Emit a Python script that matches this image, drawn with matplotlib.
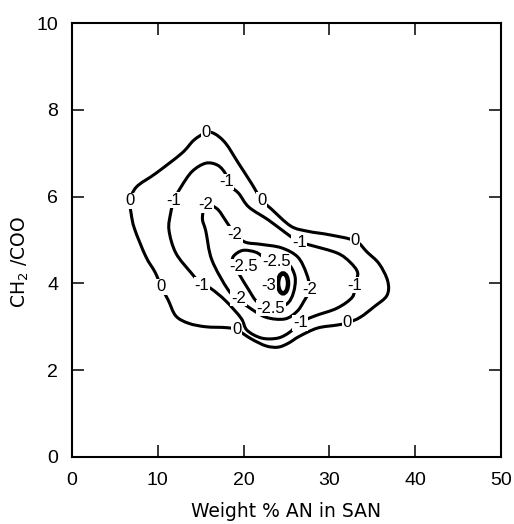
import numpy as np
import matplotlib
matplotlib.use("Agg")
import matplotlib.pyplot as plt
from matplotlib.path import Path
from matplotlib.patches import PathPatch, Ellipse

# contour outlines (weight % AN, CH2/COO), traced in order round each loop
zero_x = [6.8, 7.5, 9.8, 12.8, 14.2, 15.6, 16.6, 17.9, 19.4, 20.9, 22.1, 23.2, 25.5, 27.5, 30.0,
          33.0, 34.4, 35.8, 36.8, 36.7, 35.2, 33.6, 32.1, 30.9, 28.6, 26.5, 25.2, 24.0, 22.6,
          20.9, 19.2, 18.0, 15.6, 13.6, 12.1, 11.2, 10.4, 9.7, 8.6, 7.3, 6.9]
zero_y = [5.9, 6.22, 6.54, 7.0, 7.3, 7.47, 7.45, 7.23, 6.77, 6.31, 5.92, 5.72, 5.32, 5.2, 5.12,
          4.98, 4.72, 4.45, 4.05, 3.72, 3.46, 3.22, 3.09, 3.04, 2.97, 2.78, 2.62, 2.53, 2.56,
          2.72, 2.93, 2.98, 3.0, 3.08, 3.25, 3.62, 3.92, 4.25, 4.62, 5.25, 5.6]

m1_x = [11.9, 12.7, 14.0, 15.6, 17.0, 17.9, 18.1, 19.4, 20.6, 22.9, 25.0, 26.5, 27.8, 30.9,
        32.4, 33.3, 32.9, 32.7, 30.9, 28.3, 26.5, 25.4, 24.0, 22.1, 20.4, 19.7, 17.9, 16.2,
        15.1, 13.9, 12.1, 11.3, 11.5]
m1_y = [5.92, 6.22, 6.58, 6.77, 6.72, 6.52, 6.3, 6.08, 5.76, 5.46, 5.15, 4.95, 4.88, 4.70,
        4.49, 4.24, 3.96, 3.69, 3.43, 3.25, 3.09, 2.88, 2.74, 2.74, 2.92, 3.2, 3.6, 3.88,
        3.98, 4.24, 4.70, 5.23, 5.62]

m2_x = [15.6, 16.9, 17.9, 19.0, 20.2, 22.0, 24.4, 26.3, 27.3, 27.7, 27.0, 26.2, 24.8, 22.6,
        20.6, 19.4, 18.2, 16.3, 15.6, 15.2]
m2_y = [5.81, 5.72, 5.45, 5.13, 4.95, 4.9, 4.82, 4.61, 4.24, 3.87, 3.58, 3.35, 3.18, 3.22,
        3.45, 3.64, 3.85, 4.54, 5.2, 5.5]

m25_x = [18.8, 19.9, 21.4, 22.4, 23.8, 25.2, 26.0, 25.8, 25.0, 23.2, 21.6, 20.6, 19.4, 18.8]
m25_y = [4.62, 4.76, 4.72, 4.6, 4.5, 4.45, 4.15, 3.78, 3.52, 3.43, 3.57, 3.85, 4.24, 4.45]

# the -3 island is a small closed ring
m3_center = (24.6, 4.0)
m3_size = (1.16, 0.46)

levels = ["0", "-1", "-2", "-2.5", "-3"]

# where each level is written on its line
label_pts = {
    "0": [(15.6, 7.47), (6.8, 5.9), (22.1, 5.92), (33.0, 4.98), (32.1, 3.09), (19.2, 2.93), (10.4, 3.92)],
    "-1": [(18.0, 6.34), (11.9, 5.92), (26.5, 4.95), (32.9, 3.96), (26.6, 3.09), (15.1, 3.96)],
    "-2": [(15.6, 5.81), (19.0, 5.13), (27.7, 3.87), (19.4, 3.66)],
    "-2.5": [(20.0, 4.38), (23.8, 4.5), (23.2, 3.43)],
    "-3": [(22.9, 3.96)],
}

xticks = [0, 10, 20, 30, 40, 50]
yticks = [0, 2, 4, 6, 8, 10]


def smooth_loop(xs, ys):
    # closed Catmull-Rom loop handed to matplotlib as cubic bezier segments
    p = np.column_stack([xs, ys])
    n = len(p)
    verts = [p[0]]
    codes = [Path.MOVETO]
    for i in range(n):
        p0, p1, p2, p3 = p[i - 1], p[i], p[(i + 1) % n], p[(i + 2) % n]
        verts += [p1 + (p2 - p0) / 6, p2 - (p3 - p1) / 6, p2]
        codes += [Path.CURVE4] * 3
    verts.append(p[0])
    codes.append(Path.CLOSEPOLY)
    return Path(verts, codes)


plt.rcParams['font.family'] = ['Liberation Sans', 'DejaVu Sans']
fig = plt.figure(figsize=(5.14, 5.24), dpi=100)
ax = fig.add_axes([0.1401, 0.1279, 0.8346, 0.8282])

for xs, ys in [(zero_x, zero_y), (m1_x, m1_y), (m2_x, m2_y), (m25_x, m25_y)]:
    ax.add_patch(PathPatch(smooth_loop(xs, ys), fill=False, lw=2.2, ec='black',
                           joinstyle='round', capstyle='round'))
ax.add_patch(Ellipse(m3_center, m3_size[0], m3_size[1], fill=False, lw=3.2, ec='black'))

for lev in levels:
    for x, y in label_pts[lev]:
        ax.text(x, y, lev, fontsize=12, ha='center', va='center', zorder=5,
                bbox=dict(facecolor='white', edgecolor='none', pad=0.5))

ax.set_xlim(0, 50)
ax.set_ylim(0, 10)
ax.set_xticks(xticks)
ax.set_yticks(yticks)
ax.set_xticklabels([str(t) for t in xticks])
ax.set_yticklabels([str(t) for t in yticks])
ax.tick_params(direction='in', length=8.5, width=1.1, top=True, right=True,
               labelsize=14, color='black')
ax.tick_params(axis='x', pad=11)
ax.tick_params(axis='y', pad=10)
for s in ax.spines.values():
    s.set_linewidth(1.5)

ax.set_xlabel('Weight % AN in SAN', fontsize=13.5, family='DejaVu Sans', labelpad=9)
ax.set_ylabel('CH$_2$ /COO', fontsize=13.5, family='DejaVu Sans')
ax.yaxis.set_label_coords(-0.095, 0.45)

fig.savefig('out.png', dpi=100)
